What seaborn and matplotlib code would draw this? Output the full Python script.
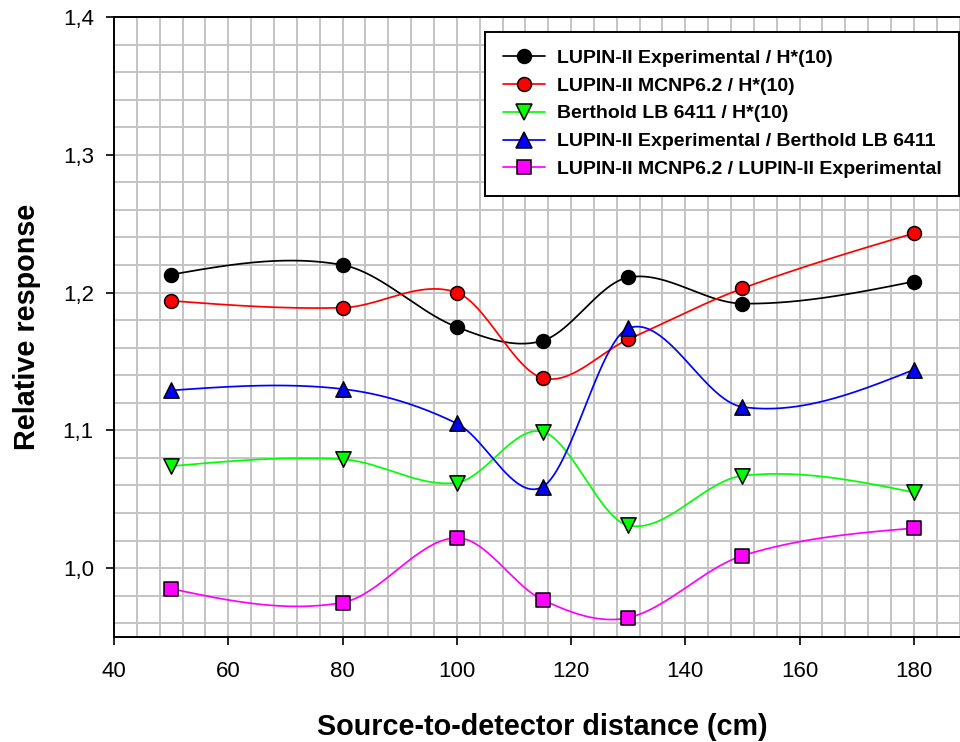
import numpy as np
import pandas as pd
import matplotlib
matplotlib.use("Agg")
import matplotlib.pyplot as plt
from matplotlib.lines import Line2D
from matplotlib.ticker import MultipleLocator, FuncFormatter
import seaborn as sns

# ---- data ----
distance = [50, 80, 100, 115, 130, 150, 180]
exp_h10 = [1.213, 1.220, 1.175, 1.165, 1.211, 1.192, 1.208]
mcnp_h10 = [1.194, 1.189, 1.200, 1.138, 1.166, 1.203, 1.243]
berthold_h10 = [1.074, 1.079, 1.062, 1.099, 1.031, 1.067, 1.055]
exp_berthold = [1.129, 1.130, 1.105, 1.059, 1.174, 1.117, 1.144]
mcnp_exp = [0.985, 0.975, 1.022, 0.977, 0.964, 1.009, 1.029]

series_labels = [
    "LUPIN-II Experimental / H*(10)",
    "LUPIN-II MCNP6.2 / H*(10)",
    "Berthold LB 6411 / H*(10)",
    "LUPIN-II Experimental / Berthold LB 6411",
    "LUPIN-II MCNP6.2 / LUPIN-II Experimental",
]
series_values = [exp_h10, mcnp_h10, berthold_h10, exp_berthold, mcnp_exp]
colors = ["#000000", "#ff0000", "#00ff00", "#0000ff", "#ff00ff"]
markers = ["o", "o", "v", "^", "s"]
msizes = [10, 10, 11, 11, 9.5]

x_ticks = [40, 60, 80, 100, 120, 140, 160, 180]
y_ticks = [1.0, 1.1, 1.2, 1.3, 1.4]


def smooth_curve(x, y, n=400):
    """Piecewise cubic Hermite curve through the points (Catmull-Rom style tangents)."""
    x = np.asarray(x, float)
    y = np.asarray(y, float)
    nn = len(x)
    h = np.diff(x)
    sl = np.diff(y) / h
    m = np.zeros(nn)
    m[1:-1] = (y[2:] - y[:-2]) / (x[2:] - x[:-2])
    m[0] = (3 * sl[0] - m[1]) / 2
    m[-1] = (3 * sl[-1] - m[-2]) / 2
    xs = np.linspace(x[0], x[-1], n)
    idx = np.clip(np.searchsorted(x, xs, side="right") - 1, 0, nn - 2)
    t = (xs - x[idx]) / h[idx]
    h00 = 2 * t ** 3 - 3 * t ** 2 + 1
    h10 = t ** 3 - 2 * t ** 2 + t
    h01 = -2 * t ** 3 + 3 * t ** 2
    h11 = t ** 3 - t ** 2
    ys = (h00 * y[idx] + h10 * h[idx] * m[idx]
          + h01 * y[idx + 1] + h11 * h[idx] * m[idx + 1])
    return xs, ys


sns.set_style("white")
plt.rcParams["font.family"] = ["Liberation Sans", "DejaVu Sans"]
plt.rcParams["text.color"] = "black"
plt.rcParams["axes.labelcolor"] = "black"
plt.rcParams["xtick.color"] = "black"
plt.rcParams["ytick.color"] = "black"

fig = plt.figure(figsize=(9.6, 7.42), dpi=100)
left_px, right_px, top_px, bottom_px = 114, 971, 17, 637
ax = fig.add_axes([left_px / 960, 1 - bottom_px / 742,
                   (right_px - left_px) / 960, (bottom_px - top_px) / 742])

handles = []
for i, (lab, vals, col, mk, ms) in enumerate(zip(series_labels, series_values, colors, markers, msizes)):
    xs, ys = smooth_curve(distance, vals)
    curve = pd.DataFrame({"x": xs, "y": ys})
    pts = pd.DataFrame({"x": distance, "y": vals})
    sns.lineplot(data=curve, x="x", y="y", color=col, linewidth=1.25,
                 sort=False, ax=ax, zorder=3 + 2 * i)
    sns.scatterplot(data=pts, x="x", y="y", color=col, marker=mk, s=ms ** 2,
                    edgecolor="black", linewidth=1.1, ax=ax, zorder=4 + 2 * i,
                    legend=False)
    handles.append(Line2D([], [], color=col, linewidth=1.25, marker=mk,
                          markersize=ms, markerfacecolor=col,
                          markeredgecolor="black", markeredgewidth=1.1))

ax.set_xlim(40, 190)
ax.set_ylim(0.95, 1.4)
ax.set_xticks(x_ticks)
ax.set_yticks(y_ticks)
ax.xaxis.set_minor_locator(MultipleLocator(4))
ax.yaxis.set_minor_locator(MultipleLocator(0.02))
ax.yaxis.set_major_formatter(FuncFormatter(lambda v, p: f"{v:.1f}".replace(".", ",")))
ax.grid(True, which="both", color="#c4c4c4", linewidth=1.4)
ax.set_axisbelow(True)

ax.tick_params(axis="x", which="major", direction="out", length=6, width=1.2,
               labelsize=16, pad=11, color="black", bottom=True)
ax.tick_params(axis="y", which="major", direction="out", length=6, width=1.2,
               labelsize=16, pad=8.5, color="black", left=True)
ax.tick_params(which="minor", length=0)

for sp in ax.spines.values():
    sp.set_color("black")
    sp.set_linewidth(1.4)

ax.set_xlabel("Source-to-detector distance (cm)", fontsize=20.7, fontweight="bold")
ax.set_ylabel("Relative response", fontsize=20.7, fontweight="bold")
ax.xaxis.set_label_coords(0.5, -(727 - bottom_px) / (bottom_px - top_px))
ax.xaxis.label.set_va("center")
ax.yaxis.set_label_coords(-(left_px - 27) / (right_px - left_px), 0.5)
ax.yaxis.label.set_va("center")

leg = ax.legend(handles, series_labels, loc="upper left",
                bbox_to_anchor=(485 / 960, 1 - 31.5 / 742),
                bbox_transform=fig.transFigure, borderaxespad=0,
                frameon=True, fancybox=False, framealpha=1, edgecolor="black",
                prop={"size": 14, "weight": "bold"}, handlelength=2.2,
                handletextpad=0.6, labelspacing=0.53, borderpad=0.9)
leg.get_frame().set_linewidth(1.4)
leg.set_zorder(20)

fig.savefig("out.png", dpi=100)
